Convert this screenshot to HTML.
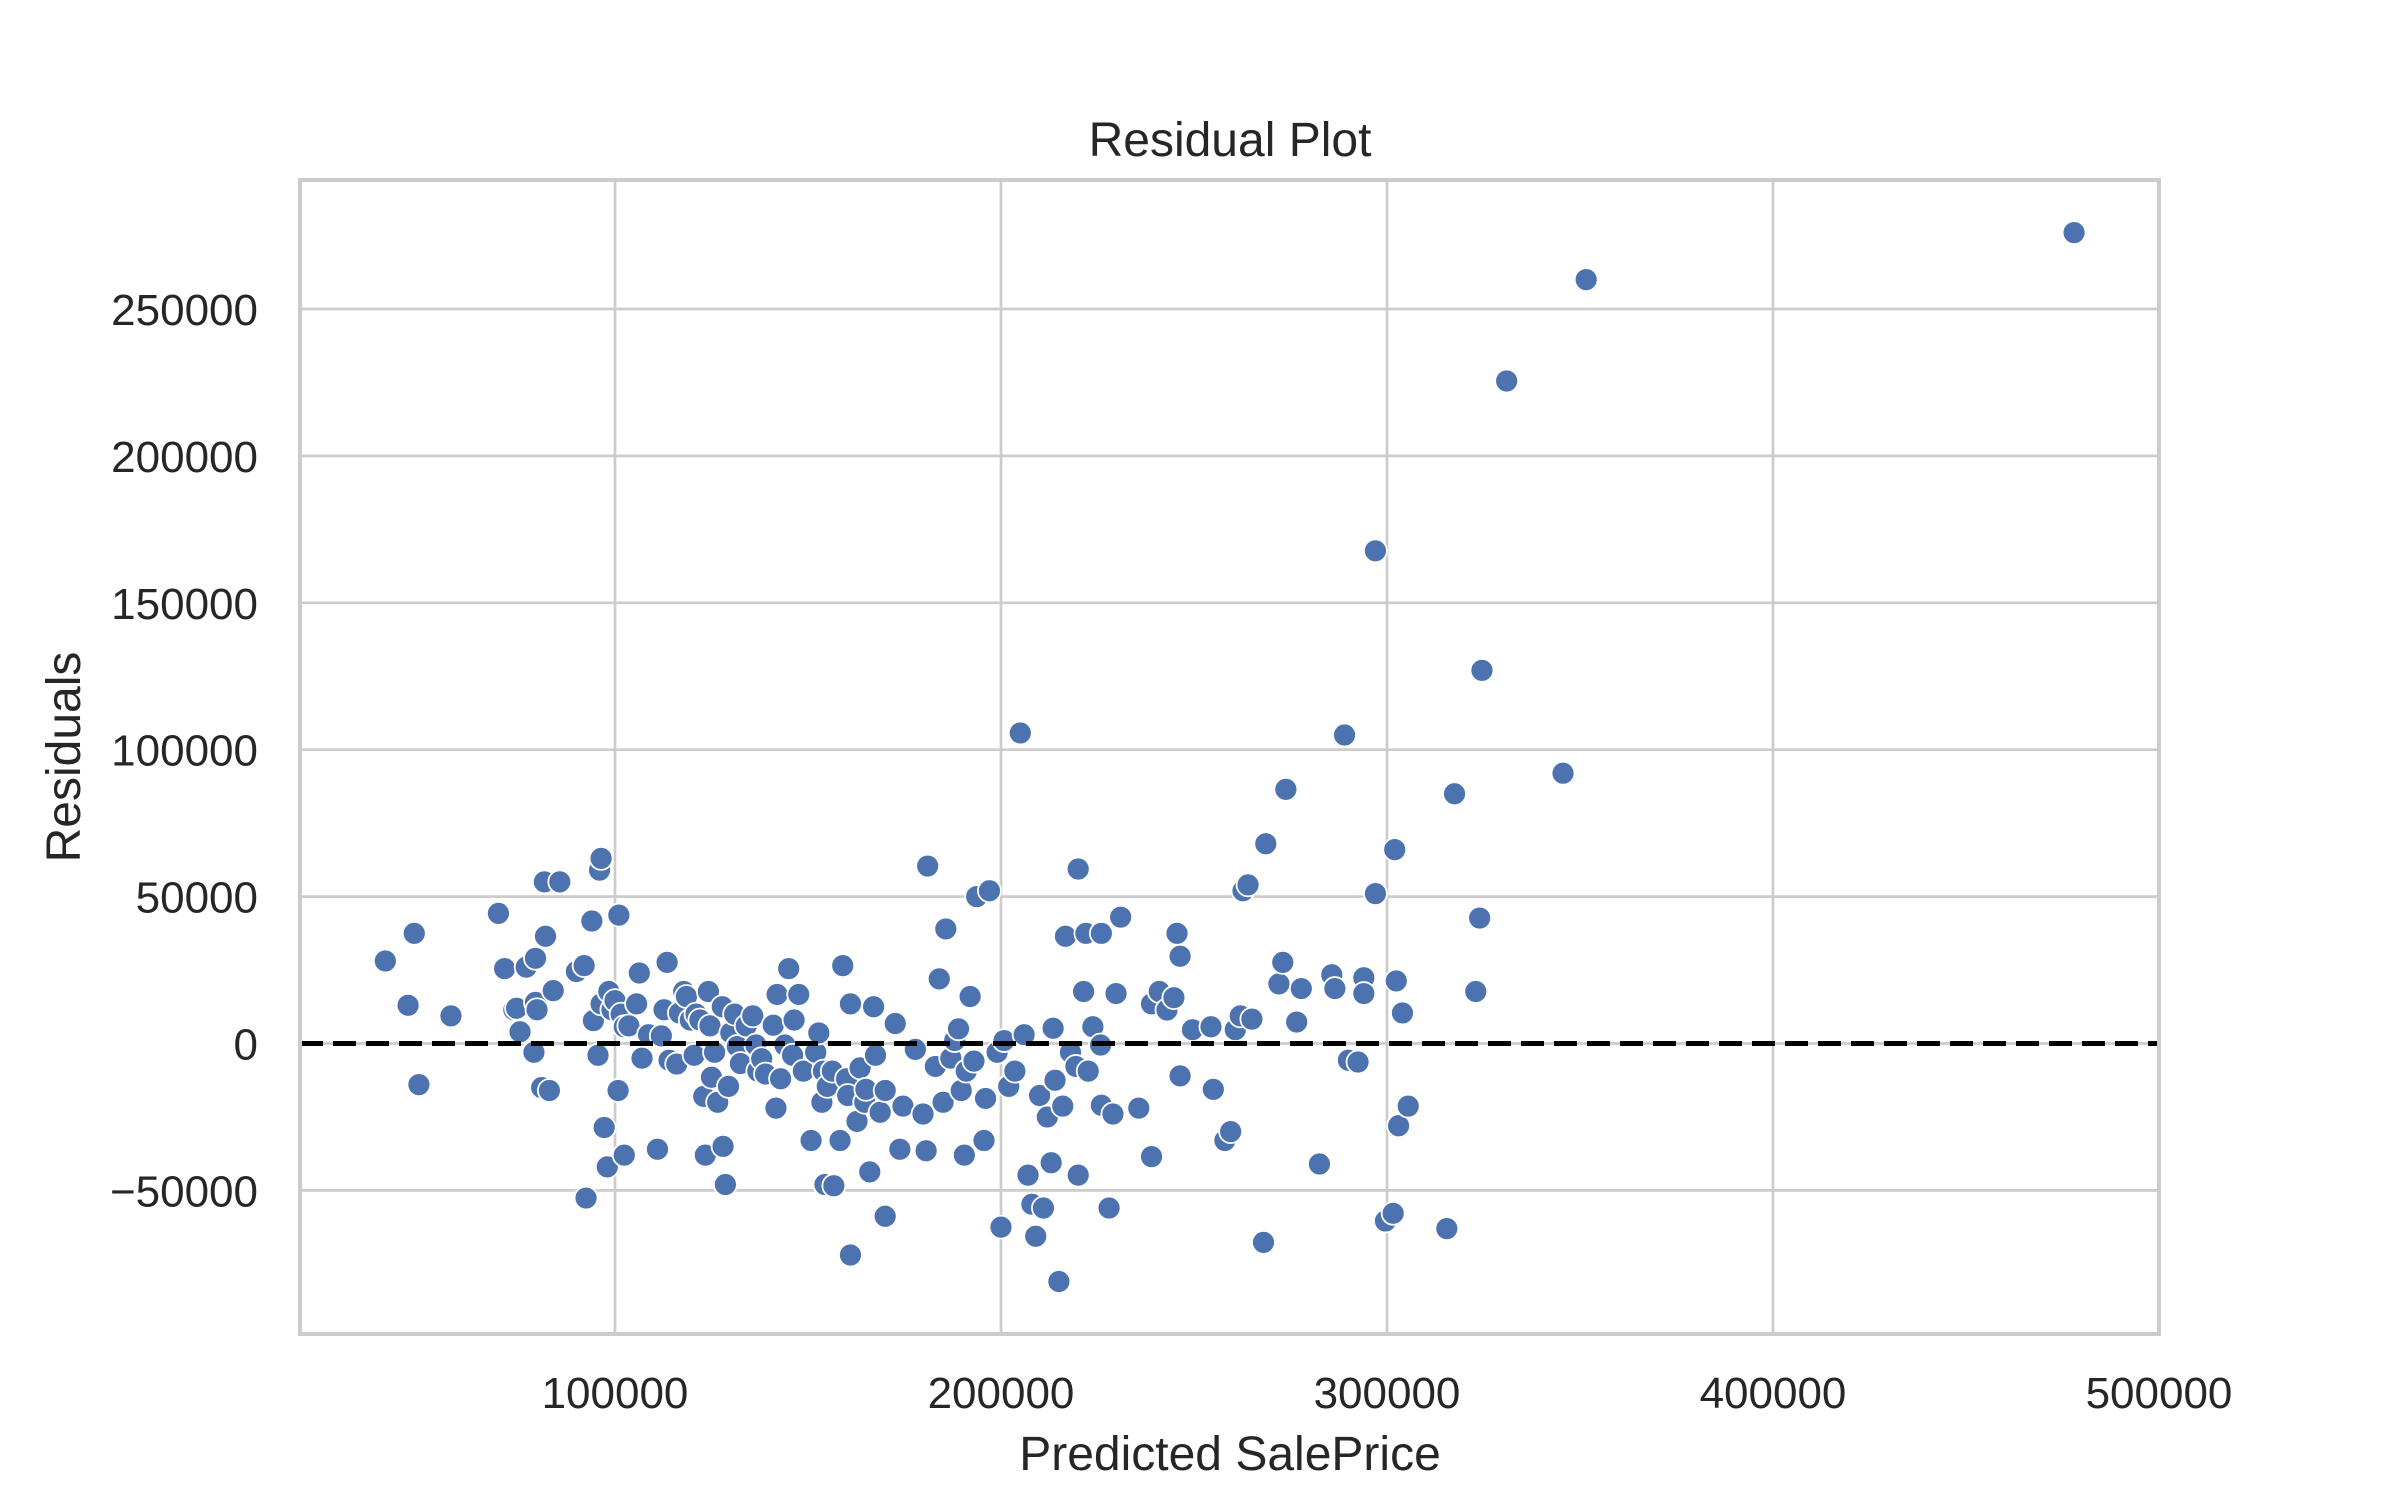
<!DOCTYPE html>
<html><head><meta charset="utf-8"><style>
html,body{margin:0;padding:0;background:#fff;}
svg{display:block;}
text{font-family:"Liberation Sans",Arial,sans-serif;fill:#262626;}
</style></head><body>
<svg id="chart" width="2400" height="1500" viewBox="0 0 2400 1500" xmlns="http://www.w3.org/2000/svg">
<rect x="0" y="0" width="2400" height="1500" fill="#fff"/>
<g id="grid"></g>
<g id="pts"></g>
<rect x="300" y="180" width="1859" height="1154" fill="none" stroke="#cccccc" stroke-width="4"/>
<g id="ticks"></g>
<text x="1230" y="156" font-size="48" text-anchor="middle">Residual Plot</text>
<text x="1230" y="1470" font-size="48" text-anchor="middle">Predicted SalePrice</text>
<text x="0" y="0" font-size="48" text-anchor="middle" transform="translate(80,757) rotate(-90)">Residuals</text>
</svg>
<script>
const xTicks = [100000, 200000, 300000, 400000, 500000];
const yTicks = [-50000, 0, 50000, 100000, 150000, 200000, 250000];
const xTickLabels = ["100000", "200000", "300000", "400000", "500000"];
const yTickLabels = ["\u221250000", "0", "50000", "100000", "150000", "200000", "250000"];
const predicted = [40.5,46.4,48,49.2,57.5,69.8,71.4,73.8,74.5,75.4,77,79,79.4,79.4,79.8,81.7,82,81,83,84,85.7,90,92,92.5,94,94.4,96,96.4,95.6,96.4,97.2,98,98.4,99.2,100,100.8,101,101.6,102.4,102.4,103.6,105.6,106.3,107,108.7,111,112,112.7,113.5,114,116,116.7,117.8,118.5,119.5,120.5,121,122,123,123.4,124.2,124.6,125,125.8,126.6,127.8,128,128.6,129.4,130,131,131.7,132.5,134,135.7,136.5,137,138,139,141,141.7,142,142.9,144,145,146,146.4,147.6,148.8,150.8,152,152.8,153.6,154,154.4,156.7,155,156.3,158.3,159,160,160.3,161,161,162.7,163.5,164.7,165,166,167,167.5,168.7,170,170,172.6,173.8,174.6,177.8,179.8,180.6,181,183,184,185,185.7,187,188,189,189.7,190.5,191,192,193,193.7,195.6,196,197,199,200,200.8,202,203.6,205,206,207,208,209,210,211,212,213,213.5,214,215,216,216.7,218,219.4,220,220,221.4,222,222.6,223.8,225.8,226,226,228,229,229.8,231,235.7,239,239,241,243,244.8,245.6,246.4,246.4,249.6,254.4,255,258,259.5,260.7,262,262.7,264,265,268,268.6,272,273,273.8,276.6,277.8,282.5,285.7,286.5,289,290,292.5,294,294,297,297,299.6,301.6,302,302.4,303,304,305.5,315.5,317.5,323,324,324.6,331,345.6,351.6,478];
const residuals = [28.1,13,37.5,-14,9.4,44.3,25.5,11.5,12,4,26,-3,29,14,11.5,55,36.5,-15,-16,18,55,24.5,26.5,-52.6,41.7,7.8,59,63,-4,13.5,-28.6,-42,17.7,11.5,14.6,-16,43.7,10,5.7,-38,6,13.5,24,-5,3,-36,2.6,11.5,27.6,-5.7,-7,10.4,17.7,16,8,-4,10,8,-18,-38,17.7,6,-11.5,-3,-20,12.5,-35,-48,-14.6,3.6,10,-1,-6.8,6,9.4,-0.5,-9.4,-5.2,-10.4,6.2,-22,16.7,-12,-0.5,25.5,-4,8,16.7,-9.4,-33,-3,3.6,-20,-9.4,-48,-48.4,-14.6,-9.4,-33,26.5,-12,-17.7,13.5,-72,-26.5,-8.3,-20,-15.6,-43.7,12.5,-4,-23.4,-16,-58.8,6.8,-36,-21.3,-2,-24,-36.5,60.4,-7.8,22,-20,39,-5,1,5,-16,-38,-9.4,16,-6,50,-33,-18.7,52,-3,-62.5,1,-14.6,-9.4,105.7,3,-44.8,-54.7,-65.6,-17.7,-56,-25,-40.6,5.2,-12.5,-81,-21.3,36.5,-3,-7.8,-44.8,59.4,17.7,37.5,-9.4,5.7,-0.5,37.5,-21,-56,-24,17,43,-22,-38.5,13.5,17.7,11.4,15.6,37.5,29.7,-11,4.7,5.7,-15.6,-33,-30,4.7,9.4,52,54,8.3,-67.7,68,20.3,27.6,86.5,7.3,18.7,-41,23.4,18.7,105,-5.7,-6.3,22.4,17,51,167.7,-60.4,-57.8,66,21.3,-28,10.4,-21.3,-63,85,17.7,42.7,127,225.5,92,260,276];

const NS = "http://www.w3.org/2000/svg";
function xScale(v){ return 229 + v * 0.00386; }
function yScale(v){ return 1043.5 - v * 0.002938; }
const grid = document.getElementById('grid');
const ticks = document.getElementById('ticks');
xTicks.forEach((t,i)=>{
  const l = document.createElementNS(NS,'line');
  l.setAttribute('x1',xScale(t)); l.setAttribute('x2',xScale(t));
  l.setAttribute('y1',180); l.setAttribute('y2',1334);
  l.setAttribute('stroke','#cccccc'); l.setAttribute('stroke-width','2.7');
  
  
  grid.appendChild(l);
  const tx = document.createElementNS(NS,'text');
  tx.setAttribute('x',xScale(t)); tx.setAttribute('y',1408);
  tx.setAttribute('font-size','44'); tx.setAttribute('text-anchor','middle');
  tx.textContent = xTickLabels[i];
  
  
  ticks.appendChild(tx);
});
yTicks.forEach((t,i)=>{
  const l = document.createElementNS(NS,'line');
  l.setAttribute('x1',300); l.setAttribute('x2',2159);
  l.setAttribute('y1',yScale(t)); l.setAttribute('y2',yScale(t));
  l.setAttribute('stroke','#cccccc'); l.setAttribute('stroke-width','2.7');
  
  
  grid.appendChild(l);
  const tx = document.createElementNS(NS,'text');
  tx.setAttribute('x',258); tx.setAttribute('y',yScale(t)+16);
  tx.setAttribute('font-size','44'); tx.setAttribute('text-anchor','end');
  tx.textContent = yTickLabels[i];
  
  
  ticks.appendChild(tx);
});
const pts = document.getElementById('pts');
predicted.forEach((p,i)=>{
  const c = document.createElementNS(NS,'circle');
  c.setAttribute('cx',xScale(p*1000)); c.setAttribute('cy',yScale(residuals[i]*1000));
  c.setAttribute('r','11.5'); c.setAttribute('fill','#4c72b0');
  c.setAttribute('stroke','#ffffff'); c.setAttribute('stroke-width','1.8');
  
  
  pts.appendChild(c);
});
const z = document.createElementNS(NS,'line');
z.setAttribute('x1',300); z.setAttribute('x2',2159);
z.setAttribute('y1',yScale(0)); z.setAttribute('y2',yScale(0));
z.setAttribute('stroke','#000'); z.setAttribute('stroke-width','5');
z.setAttribute('stroke-dasharray','23 10');


pts.appendChild(z);
</script>
</body></html>
